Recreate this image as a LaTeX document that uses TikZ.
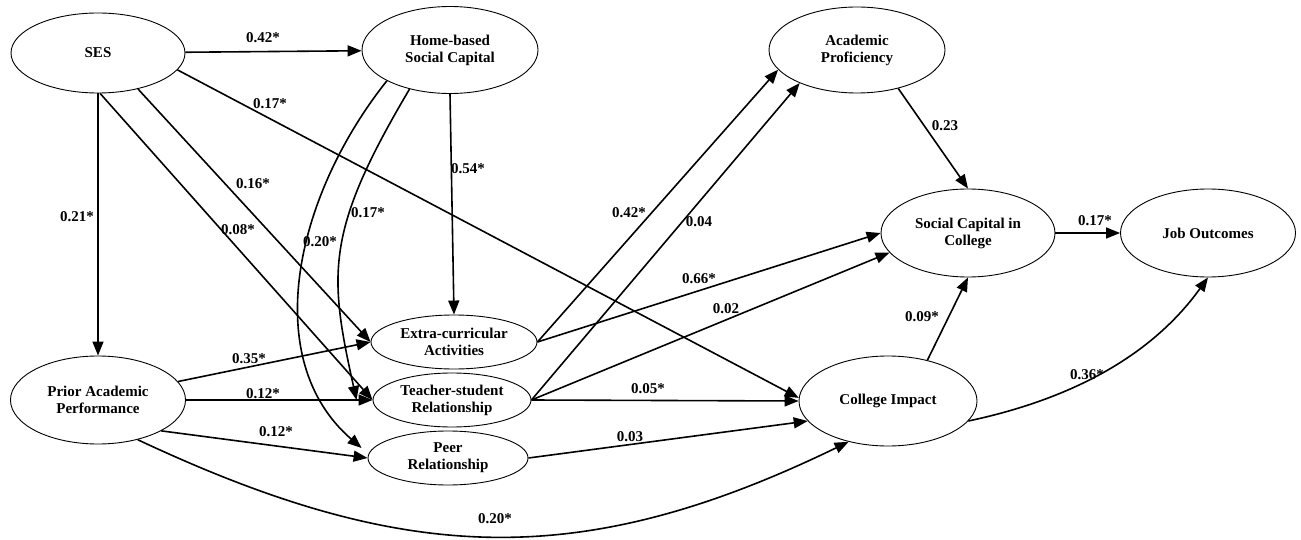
\documentclass[tikz,border=0pt]{standalone}
\usepackage{fontspec}
\setmainfont{Liberation Serif}
\usetikzlibrary{arrows.meta,shapes.geometric,calc}

\begin{document}
\begin{tikzpicture}[x=1pt,y=1pt,
  var/.style={ellipse, draw, line width=0.9pt, inner sep=0pt, align=center,
              font=\fontsize{15}{17}\selectfont\bfseries},
  effect/.style={line width=1.6pt, -{Triangle[length=14pt,width=11pt]}},
  lbl/.style={font=\fontsize{15}{17}\selectfont\bfseries, inner sep=0pt},
]
\useasboundingbox (0,0) rectangle (1301,-540);

% latent variables
\node[var, minimum width=174pt, minimum height=80pt] (ses)  at (98,-53)   {SES};
\node[var, minimum width=176pt, minimum height=87pt] (home) at (450,-50)  {Home-based\\Social Capital};
\node[var, minimum width=176pt, minimum height=86pt] (ap)   at (857,-50)  {Academic\\Proficiency};
\node[var, minimum width=174pt, minimum height=88pt] (sc)   at (968,-233) {Social Capital in\\College};
\node[var, minimum width=175pt, minimum height=88pt] (jo)   at (1208,-233){Job Outcomes};
\node[var, minimum width=175pt, minimum height=88pt] (pap)  at (98,-400)  {Prior Academic\\Performance};
\node[var, minimum width=166pt, minimum height=54pt] (eca)  at (454,-342) {Extra-curricular\\Activities};
\node[var, minimum width=158pt, minimum height=54pt] (tsr)  at (452,-400) {Teacher-student\\Relationship};
\node[var, minimum width=160pt, minimum height=54pt] (peer) at (448,-458) {Peer\\Relationship};
\node[var, minimum width=178pt, minimum height=90pt] (ci)   at (888,-401) {College Impact};

% free ends of the two curved paths from home-based social capital
\coordinate (tsr-in)  at ($(tsr.west)+(-16,0)$);
\coordinate (peer-in) at ($(peer.west)+(-6,10)$);

% paths from SES
\draw[effect] (ses) -- (home);
\draw[effect] (ses.-12.3) -- (ci.178);
\draw[effect] (ses.-42.7) -- (eca.west);
\draw[effect] (ses.-87) -- (tsr.west);
\draw[effect] (ses.south) -- (pap.north);

% paths from home-based social capital
\draw[effect] (home.south) -- (eca.north);
\draw[effect] (home.206.2) .. controls (294.5,-197) and (259.3,-359.5) .. (peer-in);
\draw[effect] (home.224.3) .. controls (325.5,-231) and (328.2,-272.6) .. (tsr-in);

% paths from prior academic performance
\draw[effect] (pap.13.4) -- (eca.west);
\draw[effect] (pap.east) -- (tsr.west);
\draw[effect] (pap.-26.9) -- (peer.west);
\draw[effect] (pap.-45) .. controls (404.7,-565) and (580,-572) .. (ci.226.4);

% high-school experiences to college outcomes
\draw[effect] (eca.east) -- (ap.194.6);
\draw[effect] (eca.east) -- (sc.west);
\draw[effect] (tsr.east) -- (ap.210.3);
\draw[effect] (tsr.east) -- (sc.194.4);
\draw[effect] (tsr.east) -- (ci.west);
\draw[effect] (peer.east) -- (ci.194.7);

% college to job outcomes
\draw[effect] (ap.-43.6) -- (sc.north);
\draw[effect] (sc) -- (jo);
\draw[effect] (ci.46.4) -- (sc.south);
\draw[effect] (ci.-14.9) .. controls (1063,-400.9) and (1148,-360.8) .. (jo.south);

% path coefficients
\node[lbl] (w-ses-home) at (263,-38)  {0.42*};
\node[lbl] (w-ses-ci)   at (270,-104) {0.17*};
\node[lbl] (w-ses-eca)  at (253,-184) {0.16*};
\node[lbl] (w-ses-tsr)  at (238,-230) {0.08*};
\node[lbl] (w-ses-pap)  at (77,-217)  {0.21*};
\node[lbl] (w-home-eca) at (468,-169) {0.54*};
\node[lbl] (w-home-peer)at (320,-242) {0.20*};
\node[lbl] (w-home-tsr) at (368,-213) {0.17*};
\node[lbl] (w-pap-eca)  at (249,-359) {0.35*};
\node[lbl] (w-pap-tsr)  at (263,-394) {0.12*};
\node[lbl] (w-pap-peer) at (276,-432) {0.12*};
\node[lbl] (w-pap-ci)   at (495,-519) {0.20*};
\node[lbl] (w-eca-ap)   at (629,-213) {0.42*};
\node[lbl] (w-tsr-ap)   at (699,-222) {0.04};
\node[lbl] (w-eca-sc)   at (699,-279) {0.66*};
\node[lbl] (w-tsr-sc)   at (726,-309) {0.02};
\node[lbl] (w-tsr-ci)   at (648,-389) {0.05*};
\node[lbl] (w-peer-ci)  at (630,-437) {0.03};
\node[lbl] (w-ap-sc)    at (945,-126) {0.23};
\node[lbl] (w-sc-jo)    at (1095,-221){0.17*};
\node[lbl] (w-ci-sc)    at (922,-317) {0.09*};
\node[lbl] (w-ci-jo)    at (1087,-375){0.36*};
\end{tikzpicture}
\end{document}
